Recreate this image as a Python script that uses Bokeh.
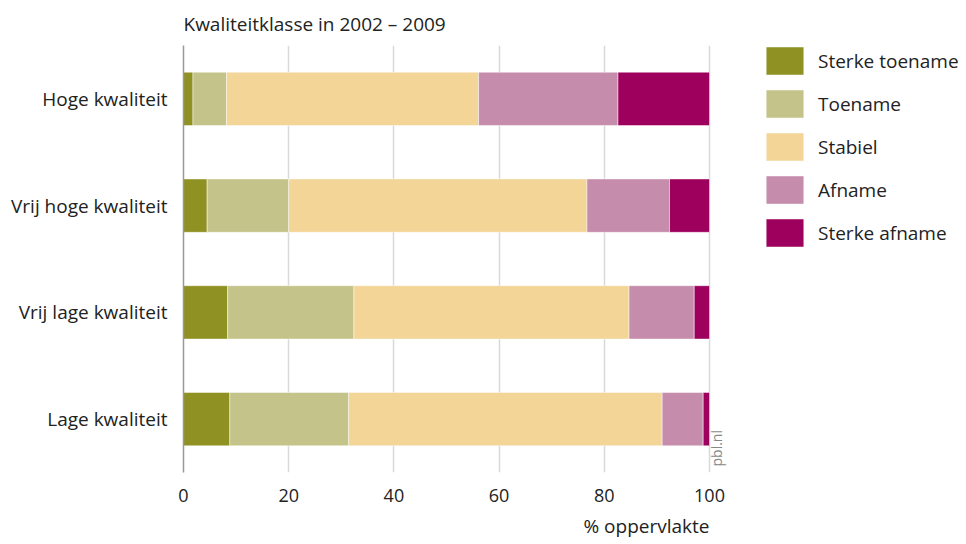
import math
from bokeh.plotting import figure
from bokeh.models import ColumnDataSource, Legend, LegendItem, Label, Title, FactorRange, Range1d
from bokeh.embed import file_html
from bokeh.resources import INLINE

categories = ["Lage kwaliteit", "Vrij lage kwaliteit", "Vrij hoge kwaliteit", "Hoge kwaliteit"]
series_names = ["Sterke toename", "Toename", "Stabiel", "Afname", "Sterke afname"]
colors = ["#8f9122", "#c4c48a", "#f2d597", "#c58dab", "#9e005d"]

sterke_toename = [8.8, 8.4, 4.5, 1.8]
toename = [22.6, 24.0, 15.5, 6.4]
stabiel = [59.6, 52.3, 56.7, 47.9]
afname = [7.8, 12.4, 15.7, 26.5]
sterke_afname = [1.2, 2.9, 7.6, 17.4]

x_ticks = [0, 20, 40, 60, 80, 100]

FONT = "Open Sans"
TXT = "#222222"

W, H = 966, 544
LEFT, TOP, BOTTOM = 183, 45, 72
PX_PER_UNIT = 5.26  # axis scale: 0..100 spans 526 px

data = {"cat": categories}
keys = ["st", "t", "s", "a", "sa"]
for k, vals in zip(keys, [sterke_toename, toename, stabiel, afname, sterke_afname]):
    data[k] = vals
source = ColumnDataSource(data)

x_end = (W - LEFT) / PX_PER_UNIT
p = figure(width=W, height=H, output_backend="svg", toolbar_location=None,
           y_range=FactorRange(*categories, range_padding=0), x_range=Range1d(0, x_end),
           min_border_left=LEFT, min_border_right=0, min_border_top=TOP, min_border_bottom=BOTTOM)
p.outline_line_color = None

renderers = p.hbar_stack(keys, y="cat", height=0.5, color=colors, source=source,
                         line_color="white", line_width=0.8, line_alpha=0.6)

frame_h = H - TOP - BOTTOM
legend_h = 5 * 35 + 4 * 8
items = [LegendItem(label=n, renderers=[r]) for n, r in zip(series_names, renderers)]
legend = Legend(items=items, location=(578, frame_h + 2 - legend_h), orientation="vertical",
                glyph_width=47, glyph_height=35, spacing=8, label_standoff=10,
                label_text_font=FONT, label_text_font_size="19px", label_text_color=TXT,
                border_line_color=None, background_fill_alpha=0, padding=0, margin=0)
p.add_layout(legend, "center")

# axes
p.xaxis.ticker = x_ticks
p.xaxis.axis_line_color = None
p.xaxis.major_tick_line_color = None
p.xaxis.minor_tick_line_color = None
p.xaxis.major_label_standoff = 10
p.xaxis.major_label_text_font = FONT
p.xaxis.major_label_text_font_size = "18px"
p.xaxis.major_label_text_color = TXT

p.yaxis.axis_line_color = "#999999"
p.yaxis.axis_line_width = 1.5
p.yaxis.major_tick_line_color = None
p.yaxis.minor_tick_line_color = None
p.yaxis.major_label_standoff = 10
p.yaxis.major_label_text_font = FONT
p.yaxis.major_label_text_font_size = "19px"
p.yaxis.major_label_text_color = TXT

p.xgrid.grid_line_color = "#d9d9d9"
p.xgrid.grid_line_width = 1.5
p.ygrid.grid_line_color = None

p.title = Title(text="Kwaliteitklasse in 2002 \u2013 2009", align="left", text_font=FONT,
                text_font_size="19px", text_font_style="normal", text_color=TXT, standoff=17)

p.add_layout(Title(text="% oppervlakte", align="right", offset=W - 709, text_font=FONT,
                   text_font_size="19px", text_font_style="normal", text_color=TXT, standoff=12), "below")

p.add_layout(Label(x=100, y=0, x_offset=7, y_offset=6, text="pbl.nl", angle=math.pi / 2,
                   text_font=FONT, text_font_size="14px", text_color="#888888",
                   text_align="left", text_baseline="middle"))

open("out.html", "w").write(file_html(p, INLINE))
